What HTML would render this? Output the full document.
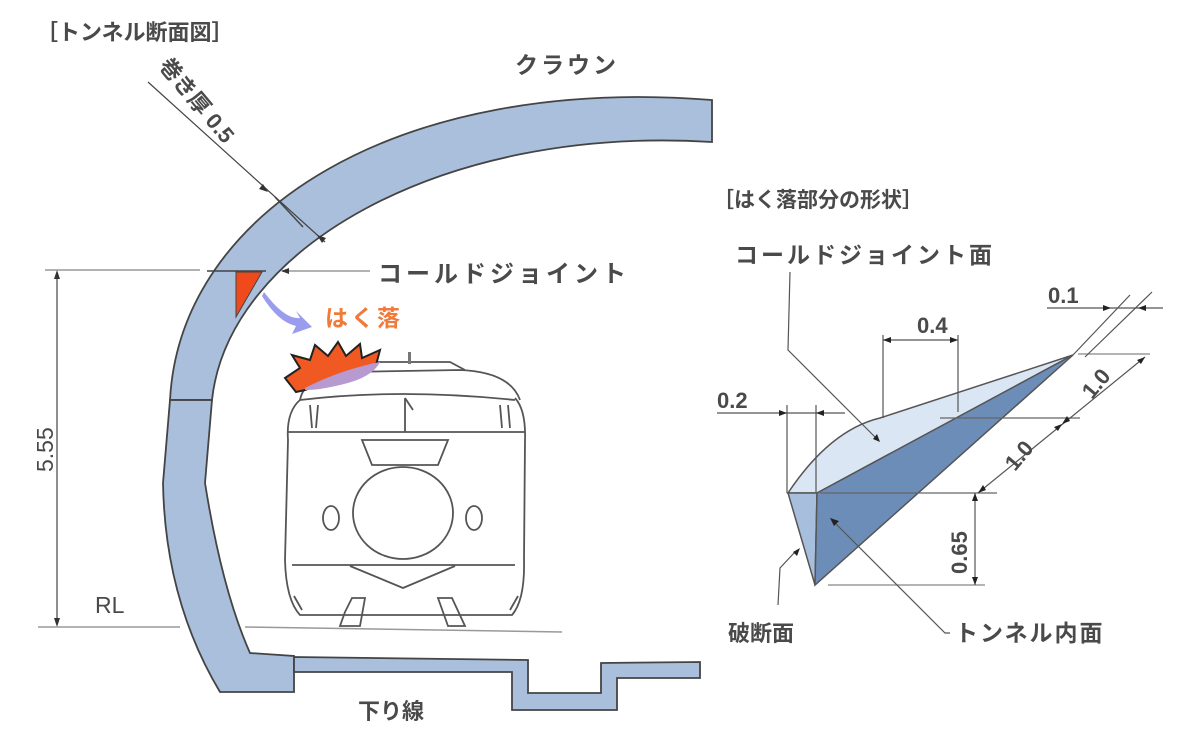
<!DOCTYPE html>
<html><head><meta charset="utf-8"><style>
html,body{margin:0;padding:0;background:#fff;}
svg{display:block;}
text{font-family:"Liberation Sans","Noto Sans CJK JP",sans-serif;fill:#4a4a4a;font-weight:bold;}
</style></head><body>
<svg width="1200" height="741" viewBox="0 0 1200 741" xmlns="http://www.w3.org/2000/svg">
<defs>
<marker id="ar" markerWidth="8" markerHeight="8" refX="7" refY="4" orient="auto" markerUnits="userSpaceOnUse"><path d="M0,1 L8,4 L0,7 z" fill="#333"/></marker>
</defs>
<text x="36" y="40" font-size="22" fill="#555">［トンネル断面図］</text>
<text x="515" y="73" font-size="23" letter-spacing="3">クラウン</text>

<path d="M170,400 C180,210 400,75 712,100 L712,142 C440,125 228,250 212,400 Z" fill="#a9bfdc" stroke="#444" stroke-width="1.8"/>
<path d="M170,400 L163,483 Q165,600 220,692 L294,692 L294,656 L250,653 Q222,590 205,483 L212,400 Z" fill="#a9bfdc" stroke="#444" stroke-width="1.8"/>
<path d="M294,657 L528,660 L528,693 L601,693 L601,663 L700,662 L700,678 L617,678 L617,710 L512,710 L512,672 L294,672 Z" fill="#a9bfdc" stroke="#444" stroke-width="1.8"/>
<line x1="170" y1="400" x2="212" y2="400" stroke="#444" stroke-width="1.5"/>
<line x1="207" y1="271" x2="266" y2="271" stroke="#444" stroke-width="1.5"/>
<line x1="275" y1="197" x2="303" y2="227" stroke="#444" stroke-width="1.5"/>
<path d="M236,272 L262,272 L236,317 Z" fill="#f04a1c" stroke="#444" stroke-width="1"/>

<line x1="45" y1="270" x2="200" y2="270" stroke="#999" stroke-width="1.5"/>
<line x1="370" y1="271" x2="282" y2="271" stroke="#999" stroke-width="1.5" marker-end="url(#ar)"/>
<text x="378" y="282" font-size="24" letter-spacing="4">コールドジョイント</text>

<line x1="148" y1="82" x2="325" y2="242" stroke="#444" stroke-width="1.2"/>
<path d="M268,192 l-9,-3 l4,-5 z M317,235 l9,3 l-4,5 z" fill="#333"/>
<text transform="translate(158,66) rotate(50)" font-size="22">巻き厚 0.5</text>

<path d="M264,292 Q285,320 300,318 L296,311 L312,327 L292,334 L296,326 Q278,322 262,296 Z" fill="#9a9cee"/>
<text x="325" y="326" font-size="23" style="fill:#f07a3a" letter-spacing="3">はく落</text>

<line x1="57" y1="275" x2="57" y2="622" stroke="#444" stroke-width="1.2"/>
<path d="M57,270 l-3,9 l6,0 z M57,627 l-3,-9 l6,0 z" fill="#333"/>
<text transform="translate(53,472) rotate(-90)" font-size="23" style="font-weight:normal">5.55</text>
<text x="95" y="613" font-size="23" style="font-weight:normal">RL</text>
<line x1="38" y1="627" x2="180" y2="627" stroke="#999" stroke-width="1.5"/>
<line x1="245" y1="627" x2="562" y2="632" stroke="#999" stroke-width="1.5"/>
<text x="358" y="719" font-size="22">下り線</text>

<g fill="none" stroke="#555" stroke-width="1.8">
<path d="M300,400 Q305,375 345,372 L460,370 Q510,372 520,400"/>
<path d="M345,372 L370,362 L450,362 L465,370"/>
<path d="M300,400 Q400,388 515,400"/>
<path d="M288,432 L525,432"/>
<path d="M300,400 Q286,412 288,440 L285,560 Q286,600 300,615 L512,615 Q525,600 524,560 L525,440 Q526,410 515,398"/>
<line x1="405" y1="398" x2="405" y2="432"/>
<path d="M405,398 L413,410"/>
<path d="M362,440 L448,440 L438,465 L372,465 Z"/>
<ellipse cx="403" cy="513" rx="50" ry="46"/>
<ellipse cx="331" cy="518" rx="8" ry="12"/>
<ellipse cx="474" cy="518" rx="8" ry="12"/>
<path d="M292,565 L515,565 M350,566 L403,588 L455,566"/>
<path d="M294,596 L302,610 M518,596 L510,610"/>
<path d="M345,612 L352,598 L365,598 L360,626 L340,626 Z M438,598 L452,598 L465,626 L448,626 Z"/>
<path d="M310,405 L312,428 M318,405 L316,428 M500,405 L502,428 M508,405 L510,428"/>
</g>
<path d="M408,352 l3,0 l0,12 l-3,0z" fill="#777"/>
<path d="M285,378 L300,368 L292,355 L310,360 L315,345 L328,356 L338,342 L346,356 L360,344 L362,358 L380,350 L376,365 L360,372 L330,380 L305,390 L296,392 Z" fill="#f05a22" stroke="#222" stroke-width="2"/>
<path d="M305,388 Q340,370 380,362 Q372,378 340,385 Q320,390 305,390 Z" fill="#b69ad0"/>

<text x="713" y="207" font-size="21" fill="#555">［はく落部分の形状］</text>
<text x="735" y="263" font-size="23" letter-spacing="3">コールドジョイント面</text>

<path d="M788,493 Q830,430 880,418 L1073,355 L817,493 Z" fill="#dbe6f4" stroke="#555" stroke-width="1.5"/>
<path d="M788,493 L817,493 L815,585 Z" fill="#a7bedd" stroke="#555" stroke-width="1.5"/>
<path d="M817,493 L1073,355 L815,585 Z" fill="#6d8db9" stroke="#555" stroke-width="1.5"/>
<line x1="940" y1="418" x2="1080" y2="418" stroke="#666" stroke-width="1.2"/>
<line x1="820" y1="493" x2="997" y2="493" stroke="#666" stroke-width="1.2"/>
<line x1="828" y1="585" x2="985" y2="585" stroke="#888" stroke-width="1.2"/>
<line x1="1078" y1="354" x2="1150" y2="354" stroke="#888" stroke-width="1.2"/>

<g stroke="#555" stroke-width="1.2" fill="none">
<line x1="883" y1="335" x2="883" y2="418"/><line x1="958" y1="335" x2="958" y2="412"/>
<line x1="883" y1="340" x2="958" y2="340"/>
<line x1="717" y1="413" x2="845" y2="413"/>
<line x1="787" y1="405" x2="787" y2="493"/><line x1="816" y1="405" x2="816" y2="493"/>
<line x1="1047" y1="308" x2="1163" y2="308"/>
<line x1="1073" y1="355" x2="1130" y2="295"/><line x1="1085" y1="357" x2="1152" y2="292"/>
<line x1="978" y1="493" x2="1145" y2="357"/>
<line x1="975" y1="493" x2="975" y2="585"/>
<path d="M790,272 L788,350 L876,438"/>
<path d="M778,605 L780,568 L795,552"/>
<path d="M950,633 L945,633 L834,522"/>
</g>
<path d="M883,340 l8,-3 l0,6 z M958,340 l-8,-3 l0,6 z M787,413 l-8,-3 l0,6 z M816,413 l8,-3 l0,6 z M1111,308 l-8,-3 l0,6z M1138,308 l8,-3 l0,6z M978,493 l5,-8 l3,5z M1145,357 l-8,3 l4,4z M1062,424 l5,-8 l3,5z M1062,424 l-8,3 l4,4z M975,493 l-3,8 l6,0z M975,585 l-3,-8 l6,0z M880,442 l-3,-8 l-4,5z M800,548 l-3,8 l-4,-4z M830,518 l9,3 l-5,5z" fill="#222"/>
<text x="917" y="333" font-size="22">0.4</text>
<text x="717" y="408" font-size="22">0.2</text>
<text x="1048" y="303" font-size="22">0.1</text>
<text transform="translate(1015,472) rotate(-50)" font-size="22">1.0</text>
<text transform="translate(1092,400) rotate(-50)" font-size="22">1.0</text>
<text transform="translate(967,574) rotate(-90)" font-size="22">0.65</text>
<text x="728" y="641" font-size="22">破断面</text>
<text x="955" y="641" font-size="23" letter-spacing="2">トンネル内面</text>
</svg>
</body></html>
